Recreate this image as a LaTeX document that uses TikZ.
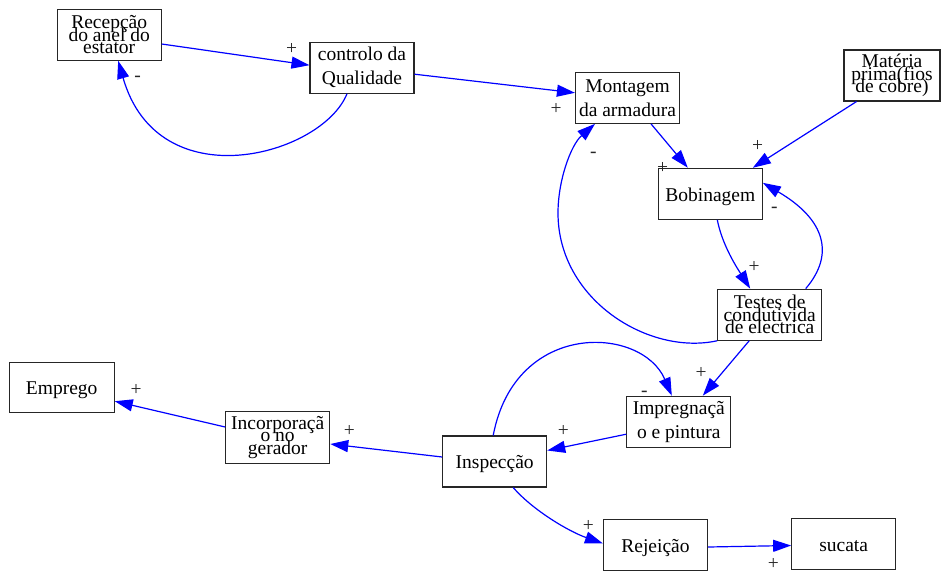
\documentclass[tikz,border=0pt]{standalone}
\usepackage{fontspec}
\setmainfont{Liberation Serif}
\usetikzlibrary{arrows.meta,calc}
\newcommand\tightlines{\lineskiplimit=-100pt\relax}
\begin{document}
\begin{tikzpicture}[x=1pt,y=-1pt,
  box/.style={draw=black!85, line width=1.1pt, fill=white, inner sep=0pt,
    minimum width=104pt, minimum height=51pt, align=center},
  oneline/.style={font={\fontsize{19.5}{23.5}\selectfont}, text height=14.5pt, text depth=0pt},
  twoline/.style={font={\fontsize{19.5}{24}\selectfont}},
  threeline/.style={font={\fontsize{19.5}{12.5}\selectfont\tightlines}},
  link/.style={draw=blue, line width=1.2pt, -{Triangle[length=18pt,width=12pt]}},
  sign/.style={font={\fontsize{19.5}{23.5}\selectfont}, inner sep=0pt, text=black!85}
]
\useasboundingbox (0,0) rectangle (943,571);

% process steps
\node[box,threeline] (rec)  at (109.2,34.7)  {Recepção\\do anel do\\estator};
\node[box,twoline]   (ctrl) at (362,67.7)    {controlo da\\Qualidade};
\node[box,twoline]   (mont) at (627.5,97.8)  {Montagem\\da armadura};
\node[box,threeline,minimum width=96pt] (mat) at (892,75.5) {Matéria\\prima(fios\\de cobre)};
\node[box,oneline]   (bob)  at (710.3,193.8) {Bobinagem};
\node[box,threeline] (test) at (769.7,314.7) {Testes de\\condutivida\\de electrica};
\node[box,twoline]   (imp)  at (678.8,421.7) {Impregnaçã\\o e pintura};
\node[box,oneline]   (insp) at (494.7,461.5) {Inspecção};
\node[box,threeline,minimum height=52pt] (inc) at (277.7,437.5) {Incorporaçã\\o no\\gerador};
\node[box,oneline,minimum width=105pt,minimum height=50pt] (emp) at (61.7,387.7) {Emprego};
\node[box,oneline]   (rej)  at (655.5,545)   {Rejeição};
\node[box,oneline]   (suc)  at (843.7,544.3) {sucata};

\coordinate (w8) at (558,213);

% causal links
\draw[link] ($(rec.east)+(0,9.3)$) -- ($(ctrl.west)+(0,-2.5)$);
\draw[link] ($(ctrl.south)+(-15,0)$) .. controls +(-25,62) and +(40,140) .. ($(rec.south)+(9,0)$);
\draw[link] ($(ctrl.east)+(0,6.5)$) -- ($(mont.west)+(0,-5)$);
\draw[link] ($(mont.south)+(23.5,0)$) -- ($(bob.north)+(-22.5,0)$);
\draw[link] ($(mat.south)+(-35.5,0)$) -- ($(bob.north)+(42.5,0)$);
\draw[link] ($(bob.south)+(7,0)$) .. controls +(5,26) and +(-12,-19) .. ($(test.north)+(-19.5,0)$);
\draw[link] ($(test.north)+(36,0)$) .. controls +(29,-34) and +(63,37) .. ($(bob.east)+(0,-11)$);
\draw[link] (test.south west) .. controls +(-68,15) and +(0,87) .. (w8)
            .. controls +(0,-33) and +(-24,21) .. ($(mont.south)+(-32.5,0)$);
\draw[link] ($(test.south)+(-20.5,0)$) -- ($(imp.north)+(24,0)$);
\draw[link] ($(insp.north)+(-1.5,0)$) .. controls +(22,-116) and +(-30,-70) .. ($(imp.north)+(-7,0)$);
\draw[link] ($(imp.west)+(0,12.5)$) -- ($(insp.east)+(0,-11)$);
\draw[link] ($(insp.west)+(0,-4.5)$) -- ($(inc.east)+(0,6.5)$);
\draw[link] ($(inc.west)+(0,-10.5)$) -- ($(emp.east)+(0,13.5)$);
\draw[link] ($(insp.south)+(18.5,0)$) .. controls +(20,23) and +(-34,-12) .. ($(rej.west)+(0,-1.5)$);
\draw[link] ($(rej.east)+(0,2)$) -- ($(suc.west)+(0,1.2)$);

% link polarities
\node[sign] (s1)  at (291.7,49.3)  {+};
\node[sign] (s2)  at (137.7,79.3)  {-};
\node[sign] (s3)  at (556,109)     {+};
\node[sign] (s4)  at (662.7,167.7) {+};
\node[sign] (s5)  at (757.7,146)   {+};
\node[sign] (s6)  at (754,267.3)   {+};
\node[sign] (s7)  at (774.3,209.7) {-};
\node[sign] (s8)  at (593.3,154.7) {-};
\node[sign] (s9)  at (701,372.7)   {+};
\node[sign] (s10) at (644.3,394.3) {-};
\node[sign] (s11) at (563.3,430.7) {+};
\node[sign] (s12) at (349.3,431)   {+};
\node[sign] (s13) at (136,390)     {+};
\node[sign] (s14) at (588.3,525.7) {+};
\node[sign] (s15) at (773.3,564)   {+};
\end{tikzpicture}
\end{document}
